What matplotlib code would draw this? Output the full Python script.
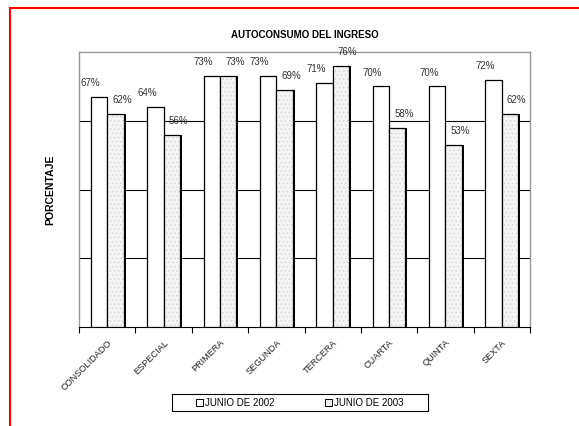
import numpy as np
import matplotlib.pyplot as plt
from matplotlib.lines import Line2D
from matplotlib.patches import Rectangle

plt.rcParams['font.family'] = ['Liberation Sans', 'DejaVu Sans']
plt.rcParams['hatch.linewidth'] = 0.5

categorias = ['CONSOLIDADO', 'ESPECIAL', 'PRIMERA', 'SEGUNDA', 'TERCERA', 'CUARTA', 'QUINTA', 'SEXTA']
junio_2002 = [67, 64, 73, 73, 71, 70, 70, 72]
junio_2003 = [62, 56, 73, 69, 76, 58, 53, 62]

fig = plt.figure(figsize=(5.79, 4.26), dpi=100)
ax = fig.add_axes([79 / 579, 1 - 327 / 426, 451 / 579, 275 / 426])

x = np.arange(len(categorias))
w = 0.29

# sombra de las barras de 2003
ax.bar(x + w / 2 + 0.035, junio_2003, w, color='black', zorder=2)
ax.bar(x - w / 2, junio_2002, w, facecolor='white', edgecolor='black', linewidth=0.9, zorder=3)
# relleno punteado claro
ax.bar(x + w / 2, junio_2003, w, facecolor='#f4f4f4', edgecolor='#d4d4d4', linewidth=0,
       hatch='....', zorder=3)
ax.bar(x + w / 2, junio_2003, w, fill=False, edgecolor='black', linewidth=0.9, zorder=4)

for i in range(len(categorias)):
    ax.text(x[i] - w / 2 - 0.15, junio_2002[i] + 2.5, f'{junio_2002[i]}%', ha='center', va='bottom',
            fontsize=7, color='#333333')
    ax.text(x[i] + w / 2 + 0.12, junio_2003[i] + 2.5, f'{junio_2003[i]}%', ha='center', va='bottom',
            fontsize=7, color='#333333')

ax.set_xlim(-0.5, len(categorias) - 0.5)
ax.set_ylim(0, 80)
ax.set_yticks([])
for g in [20, 40, 60]:
    ax.axhline(g, color='black', linewidth=0.8, zorder=1)

ax.set_xticks(np.arange(len(categorias) + 1) - 0.5)
ax.set_xticklabels([])
ax.tick_params(axis='x', direction='out', length=4, width=0.8)
for i, c in enumerate(categorias):
    ax.text(x[i], -3.2, c, rotation=45, ha='right', va='top', rotation_mode='anchor',
            fontsize=6.6, color='#222222')

for s in ['left', 'top', 'right']:
    ax.spines[s].set_color('#999999')
    ax.spines[s].set_linewidth(1.0)
ax.spines['bottom'].set_color('black')

ax.set_ylabel('PORCENTAJE', fontsize=7.5, fontweight='bold', labelpad=17)
ax.set_title('AUTOCONSUMO DEL INGRESO', fontsize=7, fontweight='bold', pad=10)

handles = [Rectangle((0, 0), 1, 1, facecolor='white', edgecolor='black', linewidth=0.7),
           Rectangle((0, 0), 1, 1, facecolor='#eeeeee', edgecolor='black', linewidth=0.7)]
leg = fig.legend(handles, ['JUNIO DE 2002', 'JUNIO DE 2003'], loc='center', bbox_to_anchor=(300 / 579, 1 - 402.5 / 426),
                 ncol=2, fontsize=7, frameon=False, handlelength=0.7, handleheight=0.7,
                 handletextpad=0.2, columnspacing=5.2, borderpad=0, borderaxespad=0)
# marco de la leyenda
fig.add_artist(Rectangle((172 / 579, 1 - 411 / 426), 256 / 579, 17 / 426, fill=False, edgecolor='black',
                         linewidth=0.8, transform=fig.transFigure))

# marco rojo
fig.add_artist(Line2D([10 / 579, 10 / 579], [0, 1 - 8 / 426], color='red', linewidth=1.5, transform=fig.transFigure))
fig.add_artist(Line2D([10 / 579, 1], [1 - 8 / 426, 1 - 8 / 426], color='red', linewidth=1.5, transform=fig.transFigure))

fig.savefig('out.png', dpi=100)
